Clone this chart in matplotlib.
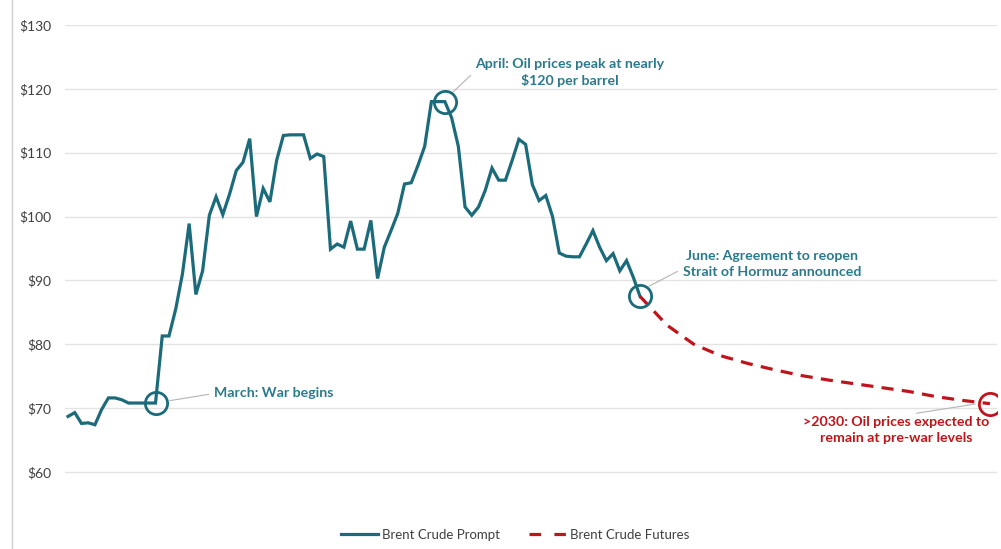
import matplotlib
matplotlib.use("Agg")
import matplotlib.pyplot as plt
from matplotlib.lines import Line2D

# -- Data ----------------------------------------------------------------------
# Brent crude prompt price, one value per trading step ($/bbl)
prompt = [68.7, 69.3, 67.6, 67.7, 67.4, 69.8, 71.6, 71.6, 71.3, 70.8,
          70.8, 70.8, 70.8, 70.8, 81.3, 81.3, 85.5, 91.0, 98.9, 87.8,
          91.5, 100.2, 103.1, 100.3, 103.5, 107.2, 108.5, 112.2, 100.0, 104.4,
          102.3, 108.8, 112.7, 112.8, 112.8, 112.8, 109.1, 109.8, 109.4, 94.9,
          95.7, 95.2, 99.3, 94.9, 94.9, 99.4, 90.3, 95.2, 97.8, 100.5,
          105.1, 105.3, 108.0, 111.0, 118.0, 118.0, 118.0, 115.5, 111.0, 101.5,
          100.2, 101.5, 104.1, 107.6, 105.7, 105.7, 108.8, 112.1, 111.3, 105.0,
          102.5, 103.3, 100.0, 94.3, 93.8, 93.7, 93.7, 95.7, 97.8, 95.2,
          93.1, 94.2, 91.5, 93.1, 90.5, 87.5]

# futures curve, starting where the prompt series ends
futures_x = [85, 89, 93, 97, 101, 105, 109, 113, 117, 121, 125, 129, 133, 137]
futures = [87.5, 83.0, 80.0, 78.2, 77.0, 76.0, 75.1, 74.4, 73.8, 73.2,
           72.6, 71.8, 71.2, 70.7]

yticks = [60, 70, 80, 90, 100, 110, 120, 130]
ytick_labels = ["$" + str(v) for v in yticks]

# annotated events: (x index, price)
march_pt = (13, prompt[13])
april_pt = (56, prompt[56])
june_pt = (85, prompt[85])
end_pt = (futures_x[-1], futures[-1])

teal = "#1b6b7b"
teal_txt = "#2b7a8b"
red = "#c0141c"
grey_txt = "#404040"

plt.rcParams["font.family"] = ["Lato", "DejaVu Sans"]

# -- Plot ----------------------------------------------------------------------
fig = plt.figure(figsize=(10.01, 5.49), dpi=100)
ax = fig.add_axes([65 / 1001, 1 - 502 / 549, 932 / 1001, 477 / 549])

x_prompt = list(range(len(prompt)))
ax.plot(x_prompt, prompt, color=teal, lw=2.3, solid_joinstyle="miter",
        label="Brent Crude Prompt", zorder=3)
ax.plot(futures_x, futures, color=red, lw=2.3, dashes=(3.8, 2.6),
        label="Brent Crude Futures", zorder=3)

# event circles
for (px, py), c in [(march_pt, teal), (april_pt, teal), (june_pt, teal), (end_pt, red)]:
    ax.plot(px, py, marker="o", ms=16, mfc="none", mec=c, mew=2.0, zorder=4)

# grid & axes cosmetics
ax.set_xlim(-0.45, 138.05)
ax.set_ylim(55.3, 130)
ax.set_yticks(yticks)
ax.set_yticklabels(ytick_labels)
ax.set_xticks([])
ax.grid(axis="y", color="#e3e3e3", lw=1.0)
ax.set_axisbelow(True)
for s in ax.spines.values():
    s.set_visible(False)
ax.tick_params(axis="y", length=0, pad=10, labelsize=10, labelcolor=grey_txt)

# annotations with thin leader lines
lead = dict(arrowstyle="-", color="#b5b5b5", lw=0.8)
txt = dict(fontsize=10.2, fontweight="bold", ha="center", va="center", linespacing=1.4)

ax.annotate("March: War begins", xy=(march_pt[0] + 1.7, march_pt[1] + 0.3),
            xytext=(30.6, 72.3), color=teal_txt,
            arrowprops=dict(lead, relpos=(0.0, 0.5)), **txt)
ax.annotate("April: Oil prices peak at nearly\n$120 per barrel",
            xy=(april_pt[0] + 0.9, april_pt[1] + 1.2), xytext=(74.6, 122.6),
            color=teal_txt, arrowprops=dict(lead, relpos=(0.0, 0.55)), **txt)
ax.annotate("June: Agreement to reopen\nStrait of Hormuz announced",
            xy=(june_pt[0] + 1.0, june_pt[1] + 1.4), xytext=(104.6, 92.5),
            color=teal_txt, arrowprops=dict(lead, relpos=(0.0, 0.35)), **txt)
ax.annotate(">2030: Oil prices expected to\nremain at pre-war levels",
            xy=(end_pt[0] - 1.8, end_pt[1]), xytext=(123.0, 66.5),
            color=red, arrowprops=dict(lead, relpos=(0.5, 1.0)), **txt)

# legend along the bottom
handles = [Line2D([], [], color=teal, lw=2.3),
           Line2D([], [], color=red, lw=2.3, dashes=(3.6, 4.2))]
fig.legend(handles, ["Brent Crude Prompt", "Brent Crude Futures"],
           loc="center", bbox_to_anchor=(515 / 1001, 1 - 535 / 549), ncol=2,
           frameon=False, fontsize=9.5, labelcolor=grey_txt, handlelength=2.8,
           handletextpad=0.3, columnspacing=2.2)

# thin frame line on the left edge
fig.add_artist(Line2D([12 / 1001, 12 / 1001], [0, 1], color="#d0d0d0", lw=1.0))

fig.savefig("out.png", dpi=100, facecolor="white")
